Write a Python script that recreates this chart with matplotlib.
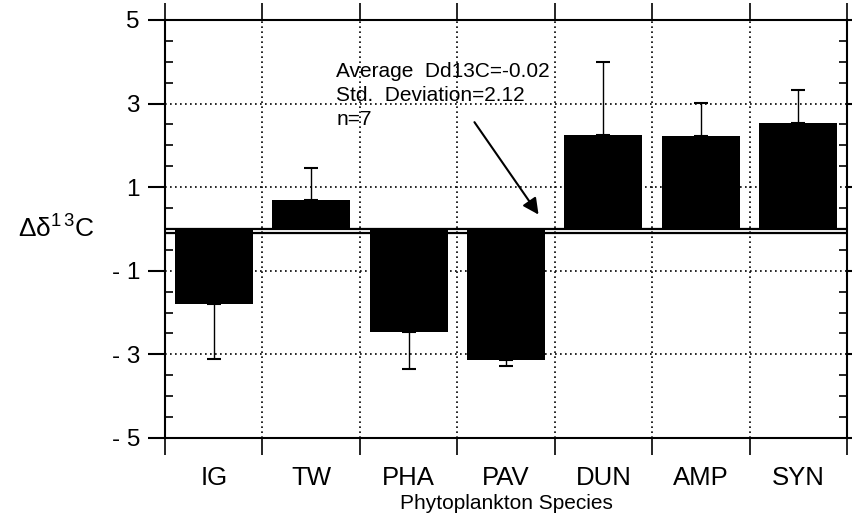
import matplotlib.pyplot as plt
import numpy as np

plt.rcParams['font.family'] = ['Liberation Sans', 'DejaVu Sans']

species = ['IG', 'TW', 'PHA', 'PAV', 'DUN', 'AMP', 'SYN']
delta13c = [-1.80, 0.69, -2.46, -3.13, 2.25, 2.23, 2.54]
std_dev = [1.32, 0.76, 0.90, 0.15, 1.74, 0.78, 0.78]
y_ticks = [-5, -3, -1, 1, 3, 5]
y_labels = ['- 5', '- 3', '- 1', '1', '3', '5']

fig = plt.figure(figsize=(8.53, 5.22), dpi=100)
ax = fig.add_axes([0.1934, 0.161, 0.7996, 0.8007])

x = np.arange(len(species)) + 0.5
vals = np.array(delta13c)
err = np.array(std_dev)
lower = np.where(vals < 0, err, 0)
upper = np.where(vals > 0, err, 0)

ax.bar(x, vals, width=0.8, color='black', zorder=3)
ax.errorbar(x, vals, yerr=[lower, upper], fmt='none', ecolor='black',
            elinewidth=1, capsize=5, capthick=1.5, zorder=2)

# double zero line
ax.axhline(-0.045, color='black', lw=4.5, zorder=1)
ax.axhline(-0.045, color='white', lw=1.3, zorder=1.5)

ax.set_xlim(0, 7)
ax.set_ylim(-5, 5)

ax.set_xticks(np.arange(0, 8))
ax.set_xticklabels([])
ax.set_xticks(x, minor=True)
ax.set_xticklabels(species, minor=True, fontsize=18.5)
ax.tick_params(axis='x', which='major', direction='out', length=12, width=1.2,
               top=True, bottom=True)
ax.tick_params(axis='x', which='minor', length=0, pad=20)

ax.set_yticks(y_ticks)
ax.set_yticklabels(y_labels, fontsize=17.5)
ax.set_yticks(np.arange(-5, 5.01, 0.5), minor=True)
ax.tick_params(axis='y', which='major', direction='out', length=12, width=1.5,
               left=True, right=True, pad=6)
ax.tick_params(axis='y', which='minor', direction='in', length=6, width=1.2,
               left=True, right=True)

ax.grid(True, which='major', color='black', linestyle=(0, (1, 2)), lw=1.2, zorder=0)

for s in ax.spines.values():
    s.set_linewidth(1.5)

ax.set_xlabel('Phytoplankton Species', fontsize=15, labelpad=3)
ax.set_ylabel(r'$\mathregular{\Delta\delta^{1\,3}C}$', fontsize=19, rotation=0,
              labelpad=40, va='center')

ax.text(1.76, 3.64, 'Average  Dd13C=-0.02', fontsize=15)
ax.text(1.76, 3.07, 'Std.  Deviation=2.12', fontsize=15)
ax.text(1.76, 2.49, 'n=7', fontsize=15)
ax.annotate('', xy=(3.85, 0.29), xytext=(3.16, 2.61),
            arrowprops=dict(arrowstyle='-|>', color='black', lw=1.5,
                            mutation_scale=24))

fig.savefig('out.png', dpi=100)
